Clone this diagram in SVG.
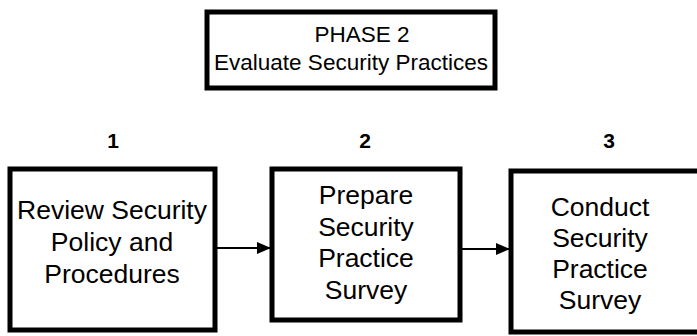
<svg xmlns="http://www.w3.org/2000/svg" width="697" height="336" viewBox="0 0 697 336">
<style>
.box{fill:#fff;stroke:#000;stroke-width:5}
.t{font-family:"Liberation Sans",Arial,sans-serif;font-size:26.5px;fill:#000;text-anchor:middle}
.h{font-family:"Liberation Sans",Arial,sans-serif;font-size:22.5px;fill:#000;text-anchor:middle}
.n{font-family:"Liberation Sans",Arial,sans-serif;font-size:21px;font-weight:bold;fill:#000;text-anchor:middle}
.c{stroke:#000;stroke-width:2;fill:none}
</style>
<defs>
<marker id="ah" markerWidth="14" markerHeight="12" refX="13" refY="6" orient="auto" markerUnits="userSpaceOnUse">
<path d="M0,0 L14,6 L0,12 Z" fill="#000"/>
</marker>
</defs>
<rect width="697" height="336" fill="#fff"/>
<g id="phase">
<rect class="box" x="207" y="12" width="288" height="76"/>
<text class="h" x="362" y="42">PHASE 2</text>
<text class="h" x="351" y="70">Evaluate Security Practices</text>
</g>
<g id="step1">
<text class="n" x="113" y="148">1</text>
<rect class="box" x="10" y="169" width="205" height="161"/>
<text class="t" x="112" y="219">Review Security</text>
<text class="t" x="112" y="251">Policy and</text>
<text class="t" x="112" y="283">Procedures</text>
</g>
<g id="step2">
<text class="n" x="365" y="148">2</text>
<rect class="box" x="272" y="169" width="188" height="151"/>
<text class="t" x="366" y="204">Prepare</text>
<text class="t" x="366" y="236">Security</text>
<text class="t" x="366" y="267">Practice</text>
<text class="t" x="366" y="299">Survey</text>
</g>
<g id="step3">
<text class="n" x="609" y="148">3</text>
<rect class="box" x="511" y="171" width="190" height="161"/>
<text class="t" x="600" y="216">Conduct</text>
<text class="t" x="600" y="247">Security</text>
<text class="t" x="600" y="278">Practice</text>
<text class="t" x="600" y="309">Survey</text>
</g>
<g id="connectors">
<line class="c" x1="217" y1="248" x2="270" y2="248" marker-end="url(#ah)"/>
<line class="c" x1="462" y1="249" x2="509" y2="249" marker-end="url(#ah)"/>
</g>
</svg>
